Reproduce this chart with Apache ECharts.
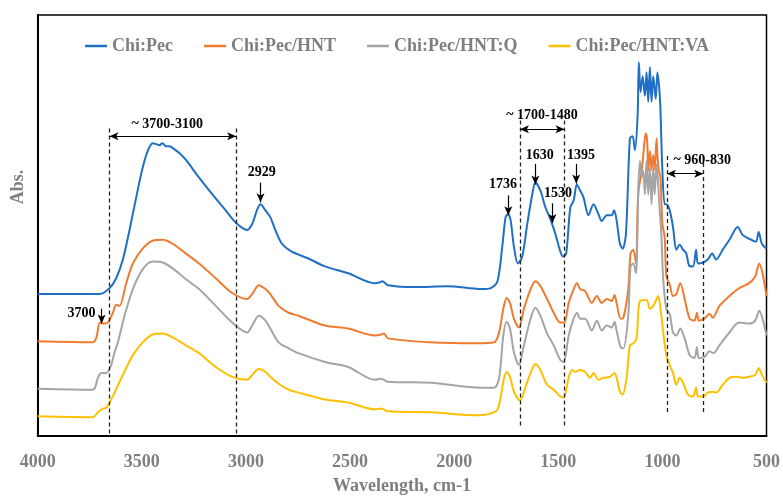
<!DOCTYPE html>
<html>
<head>
<meta charset="utf-8">
<script src="https://cdn.jsdelivr.net/npm/echarts/dist/echarts.min.js"></script>
<style>
  html, body { margin: 0; padding: 0; background: #fff; }
  #main { width: 783px; height: 500px; }
</style>
</head>
<body>
<div id="main"></div>
<script>
// FTIR spectra, [wavenumber cm-1, absorbance (offset, a.u.)]
const chiPec = [
  [4000,1.44],[3850,1.44],[3702,1.44],[3655,1.50],[3623,1.60],[3591,1.79],[3559,2.09],[3527,2.42],
  [3496,2.72],[3472,2.89],[3448,2.97],[3430,2.96],[3416,2.95],[3400,2.97],[3385,2.94],[3368,2.94],
  [3345,2.91],[3320,2.87],[3288,2.80],[3225,2.62],[3161,2.45],[3098,2.29],[3047,2.16],[2994,2.09],
  [2970,2.15],[2947,2.29],[2930,2.35],[2907,2.29],[2883,2.22],[2859,2.09],[2827,1.95],[2780,1.87],
  [2700,1.80],[2620,1.72],[2509,1.65],[2381,1.55],[2355,1.56],[2345,1.57],[2318,1.53],[2190,1.51],
  [2031,1.52],[1872,1.49],[1824,1.50],[1792,1.57],[1769,1.92],[1753,2.22],[1741,2.25],[1729,2.19],
  [1713,1.92],[1694,1.75],[1673,1.82],[1649,2.15],[1625,2.45],[1610,2.57],[1586,2.49],[1562,2.32],
  [1538,2.20],[1514,2.05],[1490,1.87],[1477,1.82],[1462,1.85],[1442,2.32],[1426,2.39],[1411,2.55],
  [1395,2.49],[1379,2.42],[1355,2.24],[1331,2.35],[1307,2.25],[1291,2.18],[1267,2.24],[1243,2.24],
  [1232,2.29],[1220,2.19],[1204,1.95],[1191,1.90],[1175,2.05],[1156,3.02],[1143,3.04],[1132,2.90],
  [1119,3.25],[1113,3.79],[1105,3.49],[1095,3.65],[1084,3.45],[1076,3.69],[1068,3.39],[1060,3.74],
  [1052,3.39],[1044,3.65],[1032,3.42],[1024,3.69],[1016,3.55],[1010,3.35],[1000,2.69],[989,2.35],
  [981,2.35],[965,2.29],[949,2.12],[933,1.89],[917,1.94],[901,1.89],[885,1.85],[872,1.73],
  [853,1.72],[838,1.89],[829,1.75],[805,1.76],[782,1.79],[761,1.85],[742,1.79],[710,1.89],
  [678,1.99],[638,2.12],[615,2.04],[583,2.00],[551,1.97],[538,2.07],[522,1.95],[500,1.90]
];
const chiPecHnt = [
  [4000,0.96],[3735,0.95],[3718,1.00],[3702,1.15],[3687,1.14],[3663,1.15],[3639,1.25],[3623,1.33],
  [3607,1.32],[3575,1.55],[3543,1.75],[3496,1.90],[3448,1.98],[3400,1.99],[3352,1.95],[3288,1.85],
  [3225,1.75],[3145,1.60],[3066,1.45],[2994,1.39],[2970,1.44],[2938,1.53],[2906,1.49],[2883,1.44],
  [2843,1.32],[2795,1.25],[2748,1.22],[2620,1.12],[2509,1.09],[2381,1.02],[2350,1.03],[2337,1.04],
  [2318,0.99],[2111,0.95],[1888,0.94],[1808,0.95],[1784,1.05],[1764,1.29],[1748,1.40],[1732,1.35],
  [1713,1.19],[1689,1.10],[1665,1.29],[1633,1.49],[1610,1.57],[1586,1.52],[1554,1.39],[1522,1.25],
  [1490,1.15],[1471,1.15],[1450,1.35],[1426,1.49],[1410,1.55],[1395,1.49],[1371,1.47],[1339,1.35],
  [1315,1.42],[1291,1.35],[1267,1.39],[1243,1.37],[1230,1.43],[1220,1.35],[1200,1.19],[1187,1.20],
  [1164,1.49],[1153,1.85],[1140,1.89],[1127,1.75],[1116,2.45],[1100,2.69],[1092,2.85],[1080,3.07],
  [1073,2.99],[1068,2.69],[1060,2.89],[1052,2.70],[1044,2.85],[1037,2.70],[1028,3.02],[1024,2.85],
  [1017,2.69],[1009,2.62],[1000,2.15],[989,2.02],[981,1.62],[965,1.54],[949,1.42],[933,1.44],
  [914,1.55],[893,1.39],[869,1.19],[846,1.17],[834,1.25],[825,1.17],[798,1.19],[774,1.24],
  [758,1.20],[726,1.32],[678,1.42],[631,1.50],[583,1.55],[554,1.62],[535,1.75],[519,1.65],[500,1.42]
];
const chiPecHntQ = [
  [4000,0.48],[3735,0.47],[3711,0.59],[3694,0.64],[3670,0.64],[3647,0.72],[3631,0.85],[3615,0.95],
  [3583,1.22],[3543,1.49],[3496,1.69],[3448,1.77],[3400,1.76],[3352,1.70],[3288,1.59],[3225,1.49],
  [3145,1.32],[3066,1.15],[2994,1.05],[2970,1.12],[2938,1.22],[2906,1.17],[2883,1.09],[2843,0.95],
  [2795,0.89],[2748,0.84],[2620,0.75],[2509,0.70],[2381,0.57],[2350,0.58],[2318,0.55],[2111,0.54],
  [1872,0.49],[1808,0.49],[1784,0.59],[1764,1.02],[1748,1.16],[1732,1.09],[1713,0.85],[1689,0.72],
  [1665,0.92],[1633,1.19],[1610,1.30],[1586,1.22],[1554,1.04],[1522,0.92],[1490,0.77],[1474,0.75],
  [1450,1.02],[1426,1.19],[1410,1.25],[1395,1.19],[1371,1.19],[1339,1.07],[1315,1.17],[1291,1.07],
  [1267,1.12],[1243,1.10],[1230,1.16],[1220,1.07],[1200,0.90],[1187,0.89],[1164,1.22],[1153,1.72],
  [1140,1.75],[1127,1.65],[1116,2.49],[1108,2.79],[1100,2.62],[1092,2.69],[1084,2.45],[1076,2.79],
  [1068,2.45],[1060,2.72],[1052,2.35],[1044,2.72],[1037,2.45],[1028,2.75],[1020,2.55],[1013,2.29],
  [1005,2.05],[996,1.59],[981,1.29],[965,1.24],[949,1.05],[933,1.02],[914,1.09],[893,0.99],
  [869,0.82],[846,0.79],[834,0.90],[825,0.79],[798,0.80],[774,0.86],[755,0.84],[726,0.92],
  [678,1.05],[631,1.15],[583,1.14],[554,1.17],[535,1.27],[519,1.19],[500,1.02]
];
const chiPecHntVa = [
  [4000,0.20],[3735,0.19],[3711,0.24],[3694,0.27],[3670,0.29],[3655,0.34],[3631,0.44],[3607,0.55],
  [3575,0.69],[3543,0.82],[3496,0.95],[3448,1.03],[3400,1.04],[3352,1.00],[3288,0.92],[3225,0.84],
  [3145,0.70],[3066,0.60],[2994,0.57],[2970,0.62],[2938,0.68],[2906,0.65],[2883,0.60],[2843,0.53],
  [2795,0.47],[2748,0.44],[2620,0.37],[2509,0.34],[2381,0.27],[2350,0.28],[2318,0.25],[2111,0.24],
  [1888,0.21],[1800,0.25],[1784,0.32],[1760,0.59],[1748,0.65],[1732,0.60],[1713,0.45],[1684,0.36],
  [1657,0.50],[1633,0.64],[1610,0.73],[1586,0.67],[1554,0.52],[1522,0.47],[1490,0.40],[1474,0.39],
  [1450,0.59],[1434,0.67],[1419,0.65],[1395,0.67],[1371,0.65],[1347,0.59],[1331,0.64],[1307,0.57],
  [1283,0.59],[1251,0.60],[1230,0.64],[1220,0.59],[1204,0.45],[1191,0.42],[1172,0.59],[1156,0.92],
  [1140,0.94],[1124,0.99],[1108,1.37],[1076,1.38],[1060,1.29],[1044,1.32],[1028,1.39],[1020,1.42],
  [1009,1.29],[996,1.05],[981,0.82],[965,0.72],[949,0.64],[933,0.52],[917,0.59],[901,0.54],
  [877,0.42],[853,0.40],[838,0.49],[829,0.40],[805,0.40],[782,0.44],[758,0.45],[742,0.44],
  [710,0.52],[678,0.59],[646,0.60],[615,0.59],[583,0.60],[554,0.62],[538,0.69],[522,0.62],[500,0.54]
];

const seriesNames = ['Chi:Pec', 'Chi:Pec/HNT', 'Chi:Pec/HNT:Q', 'Chi:Pec/HNT:VA'];
const seriesData = [chiPec, chiPecHnt, chiPecHntQ, chiPecHntVa];
const colors = ['#1f6fc5', '#f07b30', '#a5a5a5', '#ffc000'];

// band ranges: [left, right, lineTop, lineBottom, arrowAt, text, textX, textY]
const bands = [
  [3655, 3047, 3.12, 0.02, 3.04, '~ 3700-3100', 3378, 3.16],
  [1684, 1470, 3.20, 0.09, 3.11, '~ 1700-1480', 1578, 3.25],
  [978, 804, 2.84, 0.24, 2.66, '~ 960-830', 809, 2.80]
];
// peak arrows: [text, x, arrowTop, arrowBottom, textX, textY]
const peaks = [
  ['3700', 3693, 1.29, 1.14, 3790, 1.24],
  ['2929', 2930, 2.57, 2.37, 2924, 2.67],
  ['1736', 1740, 2.44, 2.24, 1765, 2.55],
  ['1630', 1610, 2.76, 2.55, 1589, 2.85],
  ['1530', 1528, 2.36, 2.16, 1501, 2.46],
  ['1395', 1414, 2.76, 2.56, 1391, 2.85]
];

const font = 'Liberation Serif, Times New Roman, serif';
const dashed = { type: [4, 3], width: 1.3, color: '#222' };
const solid = { type: 'solid', width: 1.2, color: '#000' };

const lines = [];
const texts = [];
bands.forEach(b => {
  lines.push([{ coord: [b[0], b[2]], symbol: 'none', lineStyle: dashed }, { coord: [b[0], b[3]], symbol: 'none' }]);
  lines.push([{ coord: [b[1], b[2]], symbol: 'none', lineStyle: dashed }, { coord: [b[1], b[3]], symbol: 'none' }]);
  lines.push([{ coord: [b[0], b[4]], symbol: 'arrow', lineStyle: solid }, { coord: [b[1], b[4]], symbol: 'arrow' }]);
  texts.push({ coord: [b[6], b[7]], name: b[5] });
});
peaks.forEach(p => {
  lines.push([{ coord: [p[1], p[2]], symbol: 'none', lineStyle: solid }, { coord: [p[1], p[3]], symbol: 'arrow' }]);
  texts.push({ coord: [p[4], p[5]], name: p[0] });
});

const chart = echarts.init(document.getElementById('main'));

const series = seriesNames.map((name, i) => ({
  name: name,
  type: 'line',
  data: seriesData[i],
  symbol: 'none',
  smooth: 0.3,
  lineStyle: { width: 2, color: colors[i] },
  itemStyle: { color: colors[i] }
}));

series.push({
  name: 'notes',
  type: 'line',
  data: [],
  silent: true,
  markLine: {
    silent: true,
    symbolSize: [6, 9],
    label: { show: false },
    emphasis: { disabled: true },
    data: lines
  },
  markPoint: {
    silent: true,
    symbol: 'rect',
    symbolSize: 0,
    label: {
      show: true,
      position: 'inside',
      formatter: '{b}',
      color: '#000',
      fontFamily: font,
      fontWeight: 'bold',
      fontSize: 14
    },
    data: texts
  }
});

chart.setOption({
  animation: false,
  backgroundColor: '#fff',
  legend: {
    data: seriesNames,
    top: 32,
    left: 80,
    icon: 'rect',
    itemWidth: 22,
    itemHeight: 2.5,
    itemGap: 31,
    textStyle: { fontFamily: font, fontWeight: 'bold', fontSize: 18, color: '#7f7f7f' }
  },
  grid: {
    left: 37.7, right: 12.3, top: 15, bottom: 58,
    show: true, borderColor: '#000', borderWidth: 1.5
  },
  xAxis: {
    type: 'value',
    inverse: true,
    min: 500,
    max: 4000,
    interval: 500,
    name: 'Wavelength, cm-1',
    nameLocation: 'middle',
    nameGap: 41,
    nameTextStyle: { fontFamily: font, fontWeight: 'bold', fontSize: 18, color: '#7f7f7f' },
    axisLine: { lineStyle: { color: '#000', width: 2 } },
    axisTick: { show: false },
    splitLine: { show: false },
    axisLabel: {
      margin: 17,
      formatter: v => String(v),
      fontFamily: font, fontWeight: 'bold', fontSize: 18, color: '#7f7f7f'
    }
  },
  yAxis: {
    type: 'value',
    min: 0,
    max: 4.27,
    axisLine: { show: true, lineStyle: { color: '#000', width: 2 } },
    axisTick: { show: false },
    axisLabel: { show: false },
    splitLine: { show: false }
  },
  graphic: [{
    type: 'text',
    x: 18,
    y: 187,
    rotation: Math.PI / 2,
    style: {
      text: 'Abs.',
      align: 'center',
      verticalAlign: 'middle',
      fontFamily: font,
      fontWeight: 'bold',
      fontSize: 18,
      fill: '#7f7f7f'
    }
  }],
  series: series
});
</script>
</body>
</html>
